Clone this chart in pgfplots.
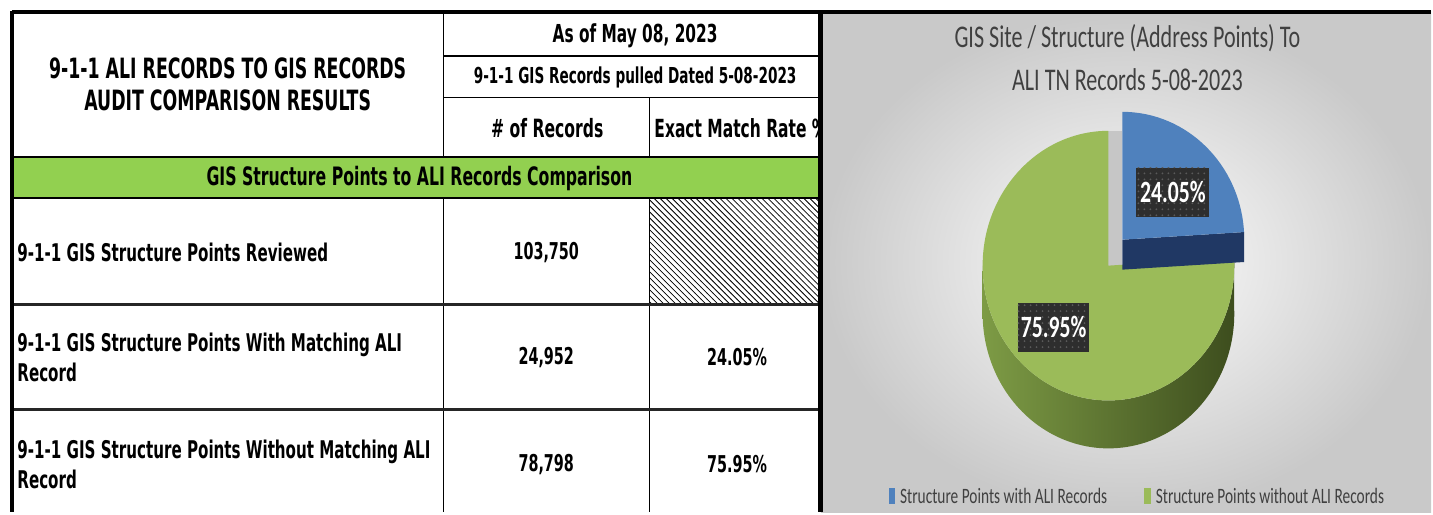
\documentclass[border=0pt]{standalone}
\usepackage{fontspec}
\usepackage{pgfplots}
\pgfplotsset{compat=1.18}
\usetikzlibrary{patterns}
\newfontfamily\tf[FakeStretch=0.62]{DejaVu Sans}
\newfontfamily\pf[FakeStretch=0.7]{Carlito}
\definecolor{bandgreen}{HTML}{92D050}
\definecolor{pgreen}{HTML}{9BBB59}
\definecolor{pblue}{HTML}{4F81BD}
\definecolor{pnavy}{HTML}{203864}
\definecolor{rimL}{HTML}{7D9B45}
\definecolor{rimR}{HTML}{3C4C1D}
\definecolor{panelgray}{HTML}{C9C9C9}
\definecolor{lbl}{HTML}{2E2E2E}
\definecolor{lbldot}{HTML}{5A5A5A}
\definecolor{ptitle}{HTML}{404040}
% pie data (percent)
\def\pA{24.05}
\def\pB{75.95}
\pgfmathsetmacro\ang{90-3.6*\pA}
\pgfmathsetmacro\bex{1124+122*cos(\ang)}
\pgfmathsetmacro\bey{240-128*sin(\ang)}
\pgfmathsetmacro\angG{360+\ang}
\newcommand\fs[2]{\fontsize{#1}{#2}\selectfont}
\begin{document}
\begin{tikzpicture}
\begin{axis}[x=0.5pt, y=0.5pt, xmin=0, xmax=1433, ymin=0, ymax=513,
  y dir=reverse, hide axis, clip=false]
\fill[white] (0,0) rectangle (1433,513);
% ---------- chart panel ----------
\shade[inner color=white, outer color=panelgray] (822,12) rectangle (1433,513);
\node[font=\pf\fs{15.8}{21.5}, text=ptitle, align=center] at (1129,58)
  {GIS Site / Structure (Address Points) To\\ALI TN Records 5-08-2023};
% green rim
\shade[left color=rimL, right color=rimR]
  (984,266) arc[start angle=180, end angle=\angG, x radius=63pt, y radius=67.5pt]
  -- ++(0pt,-24pt)
  arc[start angle=\angG, end angle=180, x radius=63pt, y radius=67.5pt] -- cycle;
% gray cut face
\fill[gray!45] (1110,131) rectangle (1124,268);
% green top
\fill[pgreen] (1110,266) -- (1110,131)
  arc[start angle=90, end angle=\angG, x radius=63pt, y radius=67.5pt] -- cycle;
% blue cut face
\fill[pnavy] (1124,240) -- (\bex,\bey) -- ++(0pt,-15pt) -- (1124,270) -- cycle;
% blue top
\fill[pblue] (1124,240) -- (\bex,\bey)
  arc[start angle=\ang, end angle=90, x radius=61pt, y radius=64pt] -- cycle;
% labels
\fill[lbl] (1138,168) rectangle (1211,217);
\path[pattern=dots, pattern color=lbldot] (1138,168) rectangle (1211,217);
\node[font=\pf\bfseries\fs{15.5}{15.5}, text=white] at (1174.5,192.5) {24.05\%};
\fill[lbl] (1019,303) rectangle (1091,352);
\path[pattern=dots, pattern color=lbldot] (1019,303) rectangle (1091,352);
\node[font=\pf\bfseries\fs{15.5}{15.5}, text=white] at (1055,327.5) {75.95\%};
% legend
\fill[pblue] (890,489) rectangle (896,505);
\node[anchor=west, font=\pf\fs{11}{11}, text=ptitle, inner sep=0pt] at (901,497) {Structure Points with ALI Records};
\fill[pgreen] (1146,489) rectangle (1153,505);
\node[anchor=west, font=\pf\fs{11}{11}, text=ptitle, inner sep=0pt] at (1157,497) {Structure Points without ALI Records};
% ---------- table ----------
\fill[bandgreen] (12,157) rectangle (822,198);
\fill[white] (650,198) rectangle (822,305);
\path[pattern=north west lines] (650,198) rectangle (822,305);
% thin lines
\draw[line width=0.6pt] (444,12) -- (444,157);
\draw[line width=0.6pt] (444,198) -- (444,513);
\draw[line width=0.6pt] (650,98) -- (650,157);
\draw[line width=0.6pt] (650,198) -- (650,513);
\draw[line width=0.6pt] (444,56) -- (822,56);
\draw[line width=0.6pt] (444,98) -- (822,98);
\draw[line width=0.8pt] (12,157) -- (822,157);
\draw[line width=0.9pt] (12,198) -- (822,198);
\draw[line width=1.1pt, black!85] (12,305) -- (822,305);
\draw[line width=1.1pt, black!85] (12,410) -- (822,410);
% thick borders
\draw[line width=2pt] (12,12) -- (1433,12);
\draw[line width=2pt] (12,11) -- (12,513);
\draw[line width=2.6pt] (822,11) -- (822,513);
% table text
\node[font=\tf\bfseries\fs{14}{16}, align=center] at (228,84)
  {9-1-1 ALI RECORDS TO GIS RECORDS\\AUDIT COMPARISON RESULTS};
\node[font=\tf\bfseries\fs{12.4}{14}] at (636,36) {As of May 08, 2023};
\node[font=\tf\bfseries\fs{11}{12}] at (636,78) {9-1-1 GIS Records pulled Dated 5-08-2023};
\node[font=\tf\bfseries\fs{12.6}{14}] at (548,128) {\# of Records};
\begin{scope}
\clip (651,99) rectangle (821,156);
\node[anchor=west, font=\tf\bfseries\fs{12.5}{14}, inner sep=0pt] at (655,128) {Exact Match Rate \%};
\end{scope}
\node[font=\tf\bfseries\fs{12.7}{14}] at (420,179) {GIS Structure Points to ALI Records Comparison};
\node[anchor=west, font=\tf\bfseries\fs{12.2}{14}, inner sep=0pt] at (17,253) {9-1-1 GIS Structure Points Reviewed};
\node[font=\tf\bfseries\fs{11.6}{14}] at (547,253) {103,750};
\node[anchor=west, font=\tf\bfseries\fs{12.2}{15}, align=left, inner sep=0pt] at (17,358)
  {9-1-1 GIS Structure Points With Matching ALI\\Record};
\node[font=\tf\bfseries\fs{11.6}{14}] at (547,358) {24,952};
\node[font=\tf\bfseries\fs{11.6}{14}] at (738,358) {24.05\%};
\node[anchor=west, font=\tf\bfseries\fs{12.2}{15}, align=left, inner sep=0pt] at (17,465)
  {9-1-1 GIS Structure Points Without Matching ALI\\Record};
\node[font=\tf\bfseries\fs{11.6}{14}] at (547,465) {78,798};
\node[font=\tf\bfseries\fs{11.6}{14}] at (738,465) {75.95\%};
\end{axis}
\end{tikzpicture}
\end{document}
